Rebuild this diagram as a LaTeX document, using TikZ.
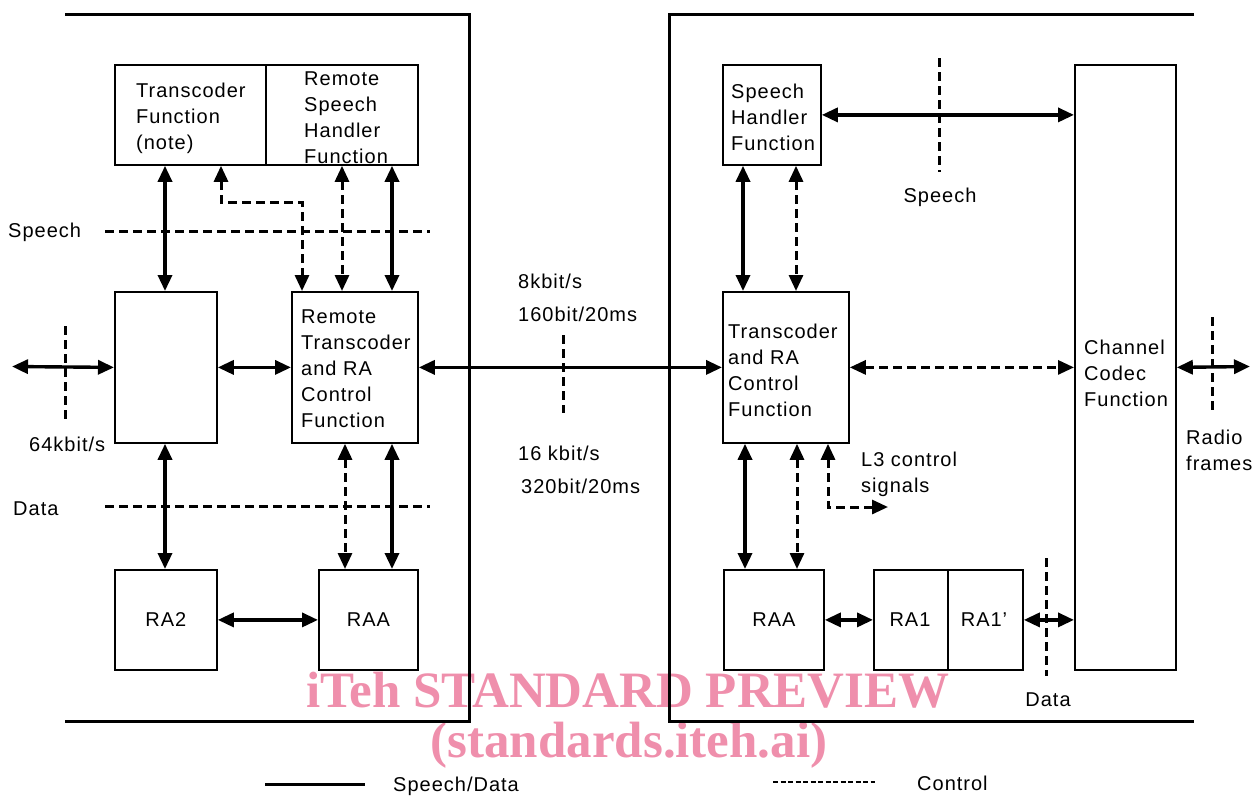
\documentclass[tikz,border=0pt]{standalone}
\usepackage{fontspec}
\setmainfont{Liberation Sans}[LetterSpace=5]
\newfontfamily\wmfont{Liberation Serif}
\usetikzlibrary{arrows.meta}
\definecolor{wmpink}{RGB}{239,143,172}
\tikzset{
  box/.style={draw, line width=1.8pt, inner sep=0pt, anchor=north west},
  txt/.style={font=\fontsize{20}{26}\selectfont, inner sep=0pt, align=left},
  frame/.style={line width=3pt},
  sd/.style={line width=3.4pt, {Triangle[length=16pt,width=14pt]}-{Triangle[length=16pt,width=14pt]}},
  ctl/.style={line width=3pt, dash pattern=on 9pt off 5pt, {Triangle[length=16pt,width=14pt]}-{Triangle[length=16pt,width=14pt]}},
  marker/.style={line width=3pt, dash pattern=on 9pt off 5pt},
}
\begin{document}
\begin{tikzpicture}[x=1pt,y=-1pt]
\useasboundingbox (0,0) rectangle (1255,796);
% watermark
\node[font=\wmfont\bfseries\fontsize{51}{51}\selectfont, text=wmpink, inner sep=0pt] (wm1) at (628,690) {iTeh STANDARD PREVIEW};
\node[font=\wmfont\bfseries\fontsize{51}{51}\selectfont, text=wmpink, inner sep=0pt] (wm2) at (629,745) {(standards.iteh.ai)};
% frames
\draw[frame] (65,14) -- (469,14) -- (469,721) -- (65,721);
\draw[frame] (1194,14) -- (669,14) -- (669,721) -- (1194,721);
% left boxes
\node[box, minimum width=151pt, minimum height=100pt] (tf) at (114,64) {};
\node[box, minimum width=152pt, minimum height=100pt] (rsh) at (265,64) {};
\node[box, minimum width=102pt, minimum height=151pt] (blank) at (114,291) {};
\node[box, minimum width=126pt, minimum height=151pt] (rtr) at (291,291) {};
\node[box, minimum width=102pt, minimum height=100pt, txt] (ra2) at (114,569) {};
\node[box, minimum width=99pt, minimum height=100pt, txt] (raaL) at (318,569) {};
% right boxes
\node[box, minimum width=98pt, minimum height=100pt] (shf) at (722,64) {};
\node[box, minimum width=101pt, minimum height=605pt] (ccf) at (1074,64) {};
\node[box, minimum width=126pt, minimum height=151pt] (tra) at (722,291) {};
\node[box, minimum width=100pt, minimum height=100pt] (raaR) at (723,569) {};
\node[box, minimum width=74pt, minimum height=100pt] (ra1) at (873,569) {};
\node[box, minimum width=75pt, minimum height=100pt] (ra1p) at (947,569) {};
% box texts
\node[txt, anchor=west] (tft) at (136,118) {Transcoder\\Function\\(note)};
\node[txt, anchor=west] (rsht) at (304,118) {Remote\\Speech\\Handler\\Function};
\node[txt, anchor=west] (rtrt) at (301,369) {Remote\\Transcoder\\and RA\\Control\\Function};
\node[txt] (ra2t) at (ra2.center) {RA2};
\node[txt] (raaLt) at (raaL.center) {RAA};
\node[txt, anchor=west] (shft) at (731,117) {Speech\\Handler\\Function};
\node[txt, anchor=west] (trat) at (728,370) {Transcoder\\and RA\\Control\\Function};
\node[txt, anchor=west] (ccft) at (1084,373) {Channel\\Codec\\Function};
\node[txt] (raaRt) at (raaR.center) {RAA};
\node[txt] (ra1t) at (910,620) {RA1};
\node[txt] (ra1pt) at (984,620) {RA1'};
% free labels
\node[txt, anchor=west] (lspeech) at (8,232) {Speech};
\node[txt, anchor=west] (ldata) at (13,509) {Data};
\node[txt, anchor=west] (l64) at (29,444) {64kbit/s};
\node[txt, anchor=west] (l8) at (518,281) {8kbit/s};
\node[txt, anchor=west] (l160) at (518,314) {160bit/20ms};
\node[txt, anchor=west] (l16) at (518,453) {16 kbit/s};
\node[txt, anchor=west] (l320) at (521,486) {320bit/20ms};
\node[txt] (rspeech) at (940,197) {Speech};
\node[txt] (rdata) at (1048,700) {Data};
\node[txt, anchor=west] (lradio) at (1186,450) {Radio\\frames};
\node[txt, anchor=west] (ll3) at (861,474) {L3 control\\signals};
% free ends
\coordinate (lend) at (12,366.5);
\coordinate (rend) at (1250,366.5);
\coordinate (l3a) at (828,507);
\coordinate (l3b) at (888,507);
\coordinate (tfa) at (221,202);
\coordinate (tfb) at (302,202);
% markers
\draw[marker] (105,231) -- (430,231);
\draw[marker] (105,506) -- (430,506);
\draw[marker] (65,326) -- (65,420);
\draw[marker] (563,335) -- (563,413);
\draw[marker] (939,58) -- (939,172);
\draw[marker] (1212,317) -- (1212,412);
\draw[marker] (1046,558) -- (1046,676);
% left connectors
\draw[sd] (165,0 |- tf.south) -- (165,0 |- blank.north);
\draw[ctl] (tfa |- tf.south) -- (tfa) -- (tfb) -- (tfb |- rtr.north);
\draw[ctl] (342,0 |- rsh.south) -- (342,0 |- rtr.north);
\draw[sd] (392,0 |- rsh.south) -- (392,0 |- rtr.north);
\draw[sd] (lend) -- (blank.west);
\draw[sd] (blank.east) -- (rtr.west);
\draw[sd] (rtr.east) -- (tra.west);
\draw[sd] (165,0 |- blank.south) -- (165,0 |- ra2.north);
\draw[ctl] (345,0 |- rtr.south) -- (345,0 |- raaL.north);
\draw[sd] (392,0 |- rtr.south) -- (392,0 |- raaL.north);
\draw[sd] (ra2.east) -- (raaL.west);
% right connectors
\draw[sd] (shf.east) -- (shf.east -| ccf.west);
\draw[sd] (743,0 |- shf.south) -- (743,0 |- tra.north);
\draw[ctl] (796,0 |- shf.south) -- (796,0 |- tra.north);
\draw[ctl] (tra.east) -- (tra.east -| ccf.west);
\draw[sd] (ccf.east) -- (rend);
\draw[sd] (745,0 |- tra.south) -- (745,0 |- raaR.north);
\draw[ctl] (797,0 |- tra.south) -- (797,0 |- raaR.north);
\draw[ctl] (l3a |- tra.south) -- (l3a) -- (l3b);
\draw[sd] (raaR.east) -- (ra1.west);
\draw[sd] (ra1p.east) -- (ra1p.east -| ccf.west);
% legend
\coordinate (lg1a) at (265,784);
\coordinate (lg1b) at (365,784);
\coordinate (lg2a) at (773,782);
\coordinate (lg2b) at (875,782);
\draw[line width=3pt] (lg1a) -- (lg1b);
\draw[line width=2.2pt, dash pattern=on 5pt off 2.5pt] (lg2a) -- (lg2b);
\node[txt, anchor=west] (lgsd) at (393,786) {Speech/Data};
\node[txt, anchor=west] (lgc) at (917,783) {Control};
\end{tikzpicture}
\end{document}
